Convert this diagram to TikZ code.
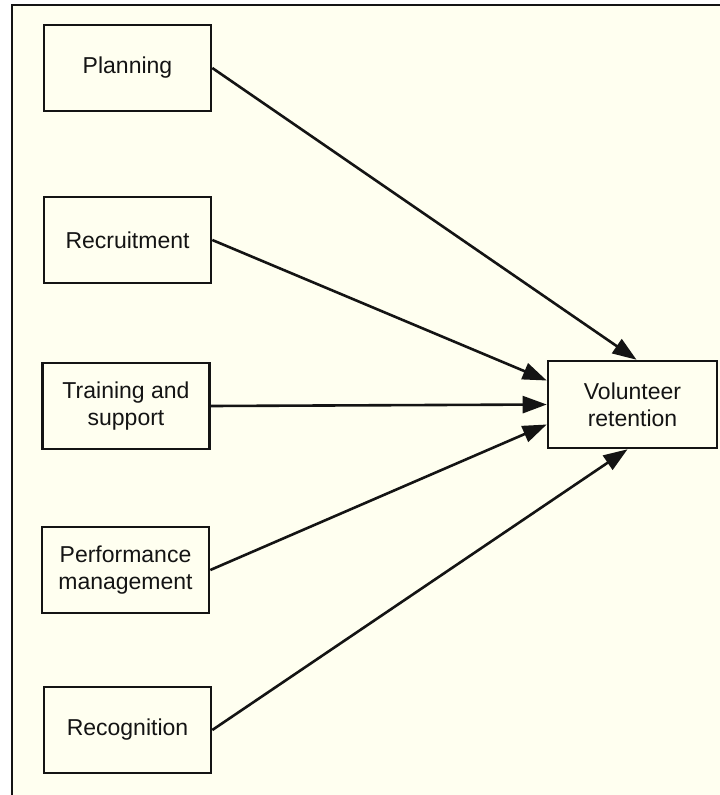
\documentclass[tikz,border=0pt]{standalone}
\usepackage{fontspec}
\setmainfont{Liberation Sans}
\usetikzlibrary{arrows.meta,calc}
\definecolor{paper}{HTML}{FFFFF0}
\definecolor{ink}{HTML}{141414}
\begin{document}
\begin{tikzpicture}[x=1pt,y=-1pt,
  factor/.style={draw=ink,line width=2.6pt,fill=paper,minimum width=167pt,minimum height=86pt,
    align=center,inner sep=0pt,font=\fontsize{23}{27}\selectfont,text=ink},
  link/.style={draw=ink,line width=2.6pt,-{Triangle[length=24pt,width=17pt]}}]
  % canvas and frame
  \useasboundingbox (0,0) rectangle (720,795);
  \fill[white] (0,0) rectangle (720,795);
  \fill[paper] (12,5) rectangle (720,795);
  \draw[ink,line width=1.8pt] (12,795) -- (12,5) -- (720,5);
  % factor boxes
  \node[factor] (plan) at (127.5,68) {Planning};
  \node[factor] (recr) at (127.5,240) {Recruitment};
  \node[factor] (train) at (126,406) {Training and\\support};
  \node[factor] (perf) at (125.5,570) {Performance\\management};
  \node[factor] (recog) at (127.5,730) {Recognition};
  % outcome box
  \node[factor,minimum width=169pt,minimum height=87pt] (ret) at (632.5,404.5) {Volunteer\\retention};
  % connectors
  \draw[link] (plan.east) -- ($(ret.north)+(4,0)$);
  \draw[link] (recr.east) -- ($(ret.west)+(0,-24)$);
  \draw[link] (train.east) -- (ret.west);
  \draw[link] (perf.east) -- ($(ret.west)+(0,20)$);
  \draw[link] (recog.east) -- ($(ret.south)+(-5,0)$);
\end{tikzpicture}
\end{document}
